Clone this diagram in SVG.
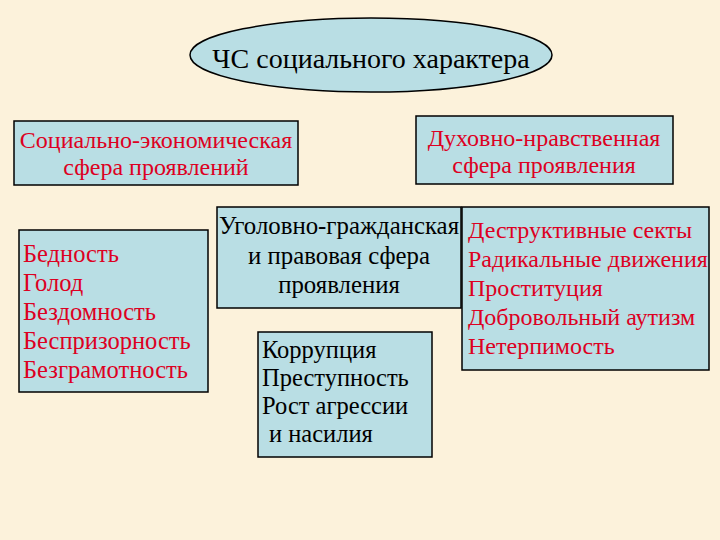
<svg xmlns="http://www.w3.org/2000/svg" width="720" height="540" viewBox="0 0 720 540">
<style>
.box{fill:#B9DEE4;stroke:#000;stroke-width:1.5}
.t{font-family:"Liberation Serif","Times New Roman",serif;font-size:24px}
.red{fill:#DD0022}
.blk{fill:#000}
.c{text-anchor:middle}
</style>
<rect width="720" height="540" fill="#FCF2DB"/>
<g id="title">
<ellipse cx="371" cy="55" rx="181" ry="37" class="box"/>
<text x="371" y="68" class="t blk c" style="font-size:28px">ЧС социального характера</text>
</g>
<g id="socio-economic">
<rect x="14" y="121" width="284" height="64" class="box"/>
<text x="156" y="148" class="t red c">Социально-экономическая</text>
<text x="156" y="175" class="t red c">сфера проявлений</text>
</g>
<g id="spiritual">
<rect x="416" y="116" width="257" height="68" class="box"/>
<text x="544" y="146" class="t red c">Духовно-нравственная</text>
<text x="544" y="173" class="t red c">сфера проявления</text>
</g>
<g id="socio-list">
<rect x="19" y="230" width="189" height="162" class="box"/>
<text class="t red" style="font-size:24.5px">
<tspan x="23" y="262">Бедность</tspan>
<tspan x="23" y="291">Голод</tspan>
<tspan x="23" y="320">Бездомность</tspan>
<tspan x="23" y="349">Беспризорность</tspan>
<tspan x="23" y="378">Безграмотность</tspan>
</text>
</g>
<g id="criminal">
<rect x="217" y="207" width="244" height="101" class="box"/>
<text x="339" y="234" class="t blk c" style="font-size:24.8px">Уголовно-гражданская</text>
<text x="339" y="264" class="t blk c" style="font-size:24.8px">и правовая сфера</text>
<text x="339" y="293" class="t blk c" style="font-size:24.8px">проявления</text>
</g>
<g id="spiritual-list">
<rect x="462" y="207" width="247" height="163" class="box"/>
<text class="t red">
<tspan x="468" y="238">Деструктивные секты</tspan>
<tspan x="468" y="267">Радикальные движения</tspan>
<tspan x="468" y="296">Проституция</tspan>
<tspan x="468" y="325">Добровольный аутизм</tspan>
<tspan x="468" y="354">Нетерпимость</tspan>
</text>
</g>
<g id="criminal-list">
<rect x="258" y="332" width="174" height="125" class="box"/>
<text class="t blk" style="font-size:24.5px">
<tspan x="262" y="358">Коррупция</tspan>
<tspan x="262" y="386">Преступность</tspan>
<tspan x="262" y="414">Рост агрессии</tspan>
<tspan x="269" y="442">и насилия</tspan>
</text>
</g>
<g id="connectors"/>
</svg>
